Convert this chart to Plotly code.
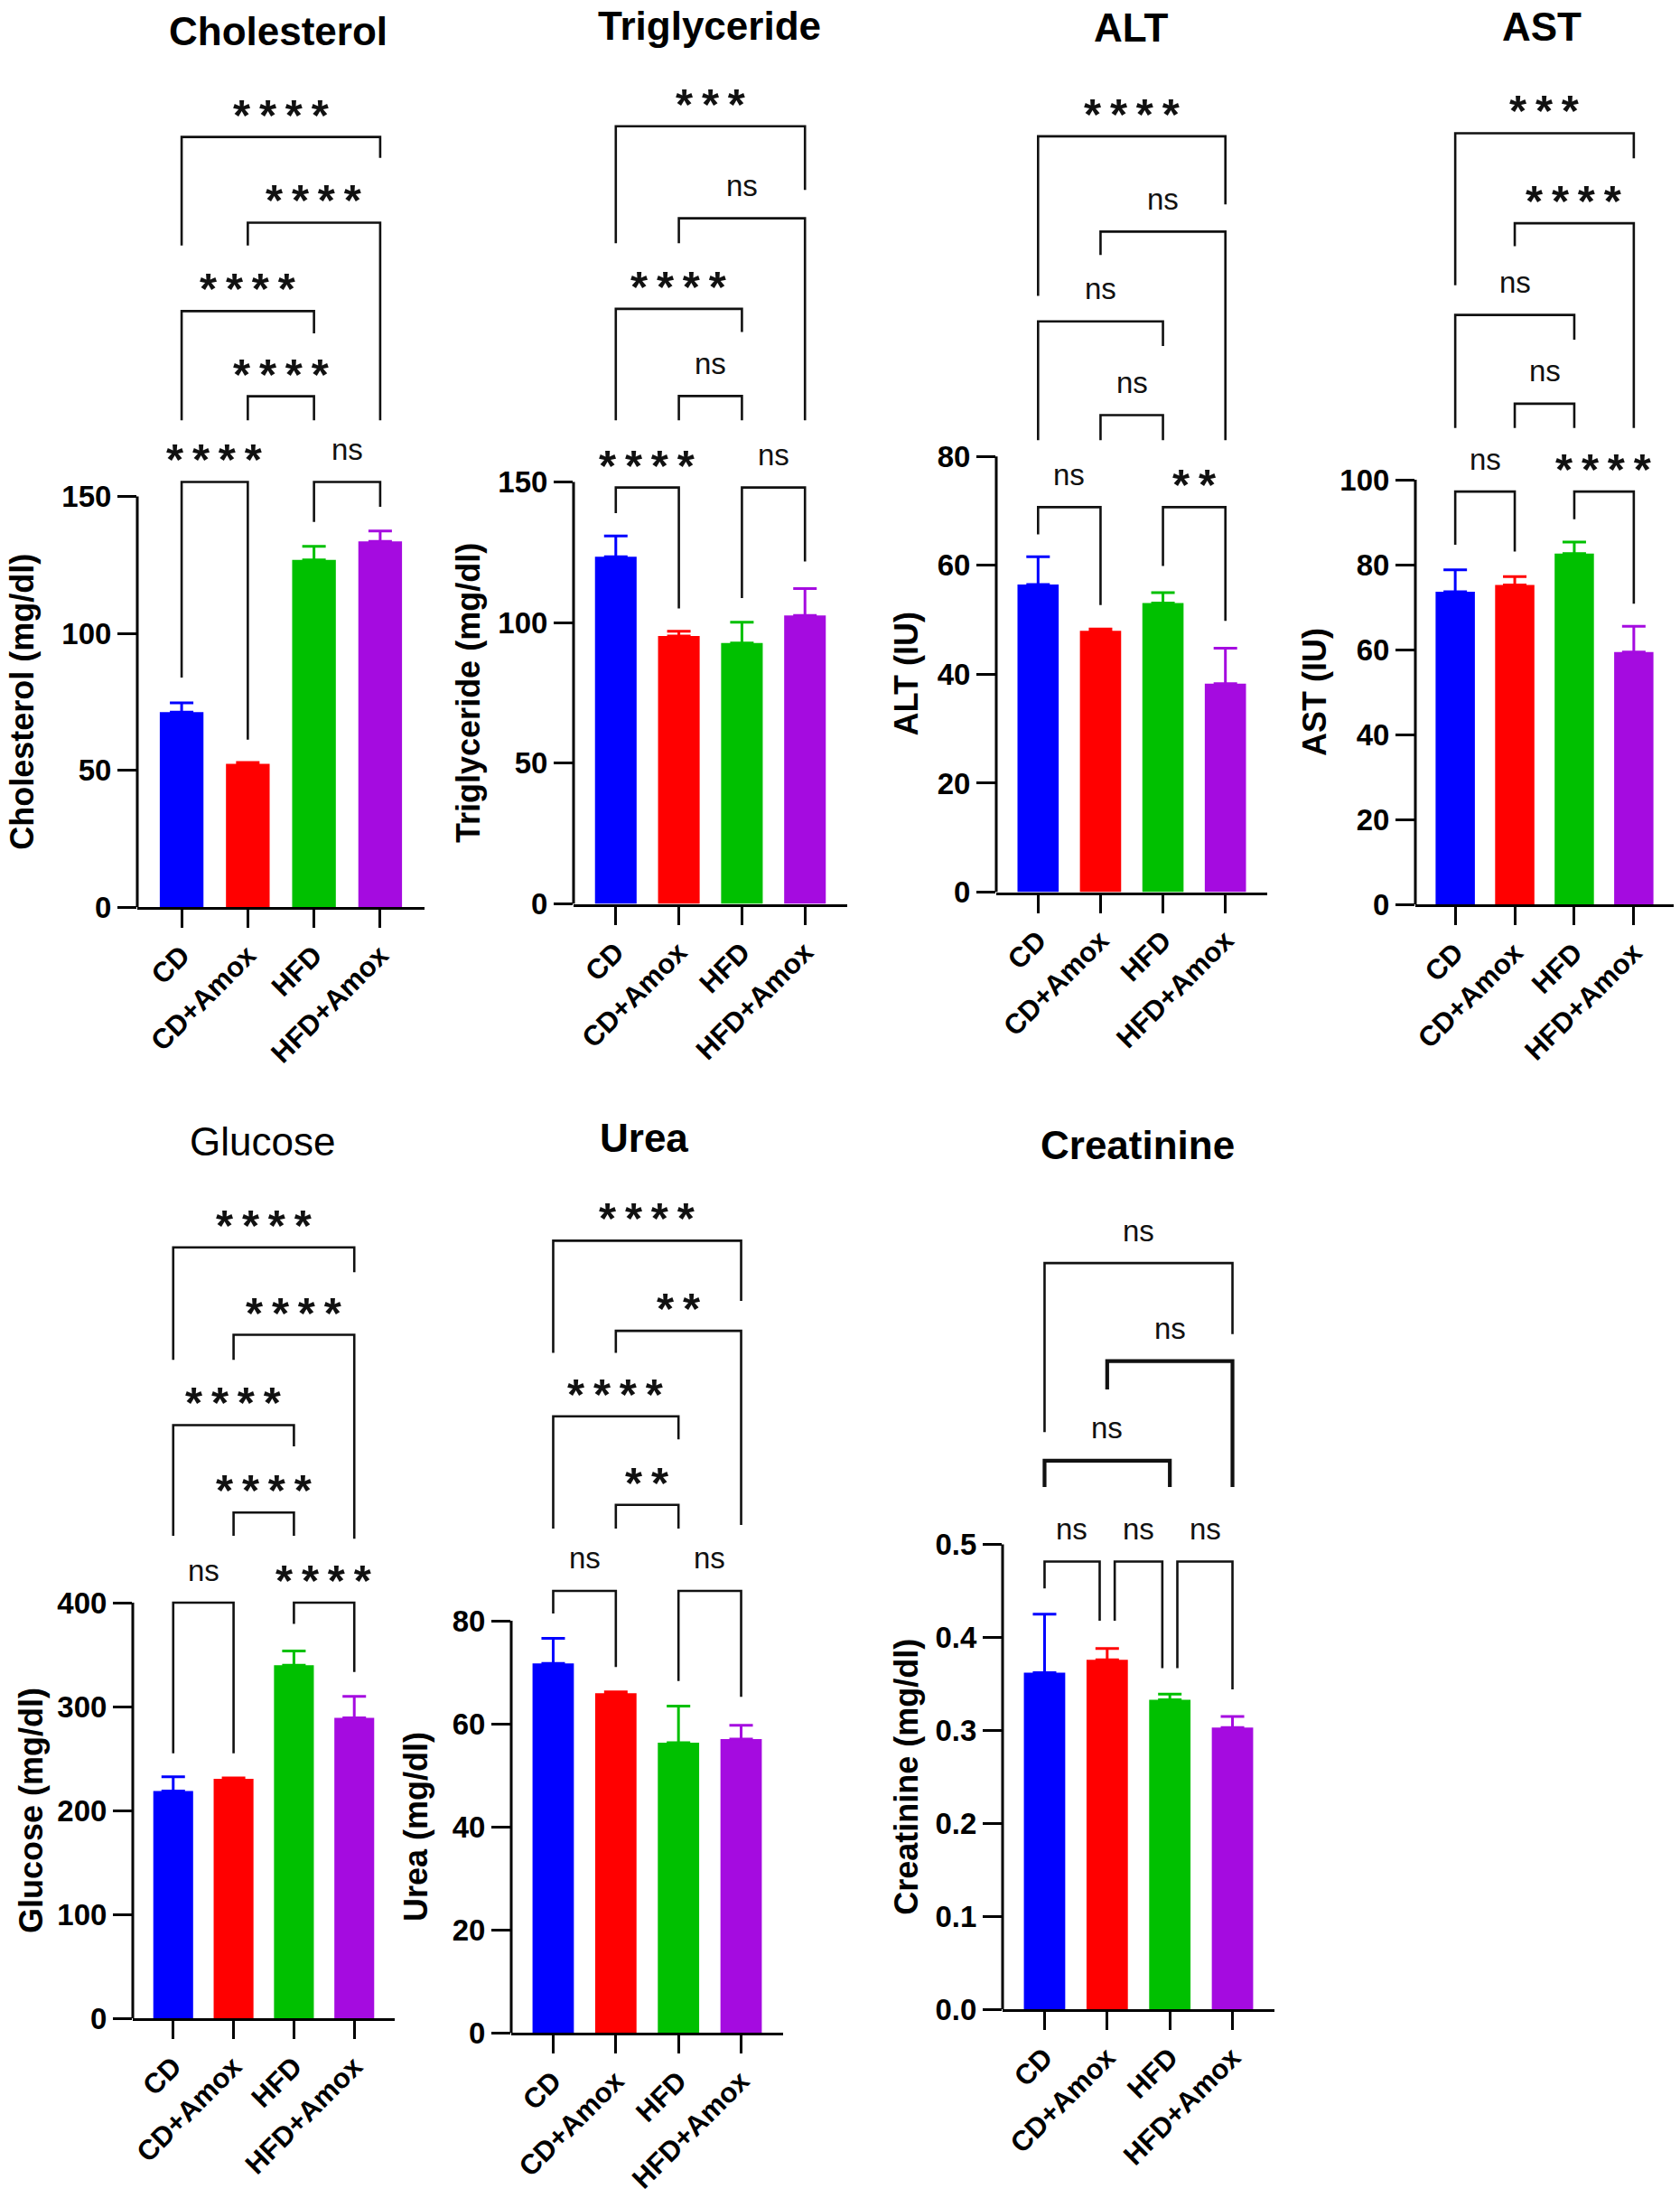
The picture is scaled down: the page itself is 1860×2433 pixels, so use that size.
import plotly.graph_objects as go

W, H = 1860, 2433
FONT = "Liberation Sans, Arial, Helvetica, sans-serif"

# ---------------- data ----------------
groups = ["CD", "CD+Amox", "HFD", "HFD+Amox"]
colors = ["#0000FF", "#FF0000", "#00C000", "#A50BE0"]

cholesterol_mean = [71.2, 52.3, 126.8, 133.6]
cholesterol_err = [3.4, 0.5, 5.0, 3.8]
triglyceride_mean = [123.4, 95.2, 92.7, 102.5]
triglyceride_err = [7.4, 1.7, 7.4, 9.6]
alt_mean = [56.5, 48.0, 53.1, 38.3]
alt_err = [5.1, 0.3, 1.9, 6.5]
ast_mean = [73.6, 75.2, 82.6, 59.4]
ast_err = [5.2, 2.0, 2.7, 6.1]
glucose_mean = [218.8, 230.4, 339.8, 289.2]
glucose_err = [13.7, 1.0, 13.7, 20.5]
urea_mean = [71.7, 65.9, 56.3, 57.0]
urea_err = [4.9, 0.3, 7.1, 2.7]
creatinine_mean = [0.362, 0.376, 0.333, 0.303]
creatinine_err = [0.063, 0.012, 0.006, 0.012]

cholesterol_ticks = [0, 50, 100, 150]
triglyceride_ticks = [0, 50, 100, 150]
alt_ticks = [0, 20, 40, 60, 80]
ast_ticks = [0, 20, 40, 60, 80, 100]
glucose_ticks = [0, 100, 200, 300, 400]
urea_ticks = [0, 20, 40, 60, 80]
creatinine_ticks = [0.0, 0.1, 0.2, 0.3, 0.4, 0.5]

# significance comparisons: (group i, group j, label)
cholesterol_sig = [(0, 1, "****"), (2, 3, "ns"), (1, 2, "****"), (0, 2, "****"), (1, 3, "****"), (0, 3, "****")]
triglyceride_sig = [(0, 1, "****"), (2, 3, "ns"), (1, 2, "ns"), (0, 2, "****"), (1, 3, "ns"), (0, 3, "***")]
alt_sig = [(0, 1, "ns"), (2, 3, "**"), (1, 2, "ns"), (0, 2, "ns"), (1, 3, "ns"), (0, 3, "****")]
ast_sig = [(0, 1, "ns"), (2, 3, "****"), (1, 2, "ns"), (0, 2, "ns"), (1, 3, "****"), (0, 3, "***")]
glucose_sig = [(0, 1, "ns"), (2, 3, "****"), (1, 2, "****"), (0, 2, "****"), (1, 3, "****"), (0, 3, "****")]
urea_sig = [(0, 1, "ns"), (2, 3, "ns"), (1, 2, "**"), (0, 2, "****"), (1, 3, "**"), (0, 3, "****")]
creatinine_sig = [(0, 1, "ns"), (1, 2, "ns"), (2, 3, "ns"), (0, 2, "ns"), (1, 3, "ns"), (0, 3, "ns")]

# ---------------- bracket geometry (annotation layout, in axis units) ----------------
# (bracket line level, left leg end, right leg end) for each comparison above
cholesterol_br = [(155.3, 83.8, 61.1), (155.3, 140.7, 146.2), (186.6, 177.8, 177.8),
                  (217.7, 177.8, 209.6), (250.0, 241.7, 177.8), (281.3, 241.7, 273.7)]
triglyceride_br = [(148.0, 138.9, 105.0), (148.0, 108.7, 121.7), (180.5, 171.9, 171.9),
                   (211.5, 171.9, 203.3), (243.7, 234.8, 171.9), (276.4, 234.8, 253.8)]
alt_br = [(70.7, 65.7, 52.7), (70.7, 59.9, 49.8), (87.6, 83.0, 83.0),
          (104.8, 83.0, 100.3), (121.3, 117.0, 83.0), (138.8, 109.5, 126.3)]
ast_br = [(97.2, 84.7, 83.1), (97.2, 90.7, 70.8), (117.9, 112.2, 112.2),
          (138.8, 112.2, 133.0), (160.4, 155.0, 112.2), (181.6, 145.8, 175.7)]
glucose_br = [(400.0, 255.0, 255.0), (400.0, 379.5, 333.3), (486.8, 464.3, 464.3),
              (570.9, 464.3, 550.4), (657.8, 633.8, 461.5), (741.9, 633.8, 718.0)]
urea_br = [(85.8, 81.4, 71.0), (85.8, 68.3, 65.2), (102.5, 97.9, 97.9),
           (119.7, 97.9, 115.2), (136.3, 132.0, 98.6), (153.8, 132.0, 142.1)]
creatinine_br = [(0.4817, 0.4526, 0.418), (0.4817, 0.418, 0.367), (0.4817, 0.367, 0.344),
                 (0.5902, 0.5619, 0.5619), (0.6972, 0.6667, 0.5619), (0.8028, 0.6208, 0.7263)]
# bracket stroke widths (px); a few creatinine brackets are drawn heavier in the original
normal_w = [2.6] * 6
creatinine_w = [2.6, 2.6, 2.6, 4.2, 4.2, 2.6]

# ---------------- panel layout (pixels) ----------------
panels = [
    dict(title="Cholesterol", ytitle="Cholesterol (mg/dl)", mean=cholesterol_mean, err=cholesterol_err,
         ticks=cholesterol_ticks, sig=cholesterol_sig, br=cholesterol_br, bw=normal_w, fmt="{:d}",
         left=152, right=470, y0=1004, ytop=549.5, top=50, tx=308, ty=34, ytx=25, tbold=True),
    dict(title="Triglyceride", ytitle="Triglyceride (mg/dl)", mean=triglyceride_mean, err=triglyceride_err,
         ticks=triglyceride_ticks, sig=triglyceride_sig, br=triglyceride_br, bw=normal_w, fmt="{:d}",
         left=635, right=938, y0=1000.5, ytop=533.4, top=50, tx=785, ty=28, ytx=519, tbold=True),
    dict(title="ALT", ytitle="ALT (IU)", mean=alt_mean, err=alt_err,
         ticks=alt_ticks, sig=alt_sig, br=alt_br, bw=normal_w, fmt="{:d}",
         left=1103, right=1403, y0=987.5, ytop=505.3, top=50, tx=1252, ty=30, ytx=1003, tbold=True),
    dict(title="AST", ytitle="AST (IU)", mean=ast_mean, err=ast_err,
         ticks=ast_ticks, sig=ast_sig, br=ast_br, bw=normal_w, fmt="{:d}",
         left=1567, right=1853, y0=1001, ytop=531, top=50, tx=1707, ty=29, ytx=1456, tbold=True),
    dict(title="Glucose", ytitle="Glucose (mg/dl)", mean=glucose_mean, err=glucose_err,
         ticks=glucose_ticks, sig=glucose_sig, br=glucose_br, bw=normal_w, fmt="{:d}",
         left=147, right=437, y0=2234, ytop=1774, top=1285, tx=290, ty=1263, ytx=34, tbold=False),
    dict(title="Urea", ytitle="Urea (mg/dl)", mean=urea_mean, err=urea_err,
         ticks=urea_ticks, sig=urea_sig, br=urea_br, bw=normal_w, fmt="{:d}",
         left=566, right=867, y0=2250, ytop=1794, top=1285, tx=713, ty=1259, ytx=460, tbold=True),
    dict(title="Creatinine", ytitle="Creatinine (mg/dl)", mean=creatinine_mean, err=creatinine_err,
         ticks=creatinine_ticks, sig=creatinine_sig, br=creatinine_br, bw=creatinine_w, fmt="{:.1f}",
         left=1110, right=1411, y0=2224, ytop=1709.6, top=1285, tx=1259, ty=1267, ytx=1004, tbold=True),
]

XR = [-0.67, 3.67]
BAR_W = 0.66
STAR_SP = "\u2009"
YTICK_FS = 33
XTICK_FS = 31


def px_x(p):
    return p / W


def px_y(p):
    return 1 - p / H


fig = go.Figure()
layout = dict(
    width=W, height=H, margin=dict(l=0, r=0, t=0, b=0, pad=0, autoexpand=False),
    paper_bgcolor="white", plot_bgcolor="white", showlegend=False,
    barmode="overlay", font=dict(family=FONT, color="black"),
)
shapes = []
annotations = []

for k, p in enumerate(panels):
    n = k + 1
    sfx = "" if n == 1 else str(n)
    xa, ya = "x" + sfx, "y" + sfx
    top_val = p["ticks"][-1]
    scale = (p["y0"] - p["ytop"]) / top_val
    ymax = (p["y0"] - p["top"]) / scale

    for g in range(4):
        fig.add_trace(go.Bar(
            x=[g], y=[p["mean"][g]], width=BAR_W, xaxis=xa, yaxis=ya,
            marker=dict(color=colors[g], line=dict(width=0)),
            error_y=dict(type="data", symmetric=False, array=[p["err"][g]], arrayminus=[0],
                         color=colors[g], thickness=3, width=13),
            hoverinfo="skip",
        ))

    layout["xaxis" + sfx] = dict(
        domain=[px_x(p["left"]), px_x(p["right"])], anchor=ya, range=XR, automargin=False,
        tickmode="array", tickvals=[0, 1, 2, 3], ticktext=groups, tickangle=-45,
        ticks="outside", ticklen=20, tickwidth=3, tickcolor="black",
        showline=True, linewidth=3, linecolor="black", showgrid=False, zeroline=False,
        tickfont=dict(family=FONT, size=XTICK_FS, color="black", weight="bold"),
    )
    layout["yaxis" + sfx] = dict(
        domain=[px_y(p["y0"]), px_y(p["top"])], anchor=xa, range=[0, ymax], automargin=False,
        tickmode="array", tickvals=p["ticks"], ticktext=[p["fmt"].format(t) for t in p["ticks"]],
        ticks="outside", ticklen=21, tickwidth=3, tickcolor="black",
        showline=False, showgrid=False, zeroline=False,
        tickfont=dict(family=FONT, size=YTICK_FS, color="black", weight="bold"),
    )
    # y axis line only up to the top tick
    shapes.append(dict(type="line", xref=xa + " domain", yref=ya, x0=0, x1=0, y0=0, y1=top_val,
                       line=dict(color="black", width=3)))

    # significance brackets
    levels = {}
    for (i, j, lab), (yl, le, re) in zip(p["sig"], p["br"]):
        levels.setdefault(round(yl, 4), []).append((i, j))
    for (i, j, lab), (yl, le, re), lw in zip(p["sig"], p["br"], p["bw"]):
        same = levels[round(yl, 4)]
        xi = i + (0.12 if any(b == i for a, b in same) else 0)
        xj = j - (0.12 if any(a == j for a, b in same) else 0)
        shapes.append(dict(type="path", xref=xa, yref=ya,
                           path=f"M {xi},{le} L {xi},{yl} L {xj},{yl} L {xj},{re}",
                           line=dict(color="#111111", width=lw)))
        if lab == "ns":
            annotations.append(dict(x=(xi + xj) / 2, y=yl, xref=xa, yref=ya, text="ns",
                                    showarrow=False, yanchor="middle", yshift=36,
                                    font=dict(family=FONT, size=33, color="#111111")))
        else:
            annotations.append(dict(x=(xi + xj) / 2, y=yl, xref=xa, yref=ya,
                                    text=STAR_SP.join("*" * len(lab)),
                                    showarrow=False, yanchor="middle", yshift=25,
                                    font=dict(family=FONT, size=49, color="#111111", weight="bold")))

    # panel title
    annotations.append(dict(x=px_x(p["tx"]), y=px_y(p["ty"]), xref="paper", yref="paper",
                            text=p["title"], showarrow=False, xanchor="center", yanchor="middle",
                            font=dict(family=FONT, size=44, color="black",
                                      weight="bold" if p["tbold"] else "normal")))
    # y-axis title centred on the scaled part of the axis
    annotations.append(dict(x=px_x(p["ytx"]), y=px_y((p["y0"] + p["ytop"]) / 2), xref="paper", yref="paper",
                            text=p["ytitle"], showarrow=False, textangle=-90,
                            xanchor="center", yanchor="middle",
                            font=dict(family=FONT, size=36, color="black", weight="bold")))

layout["shapes"] = shapes
layout["annotations"] = annotations
fig.update_layout(**layout)
fig.write_html(
    "out.html",
    config={"displayModeBar": False, "staticPlot": True},
    post_script="document.body.style.margin='0px';document.body.style.padding='0px';",
)
